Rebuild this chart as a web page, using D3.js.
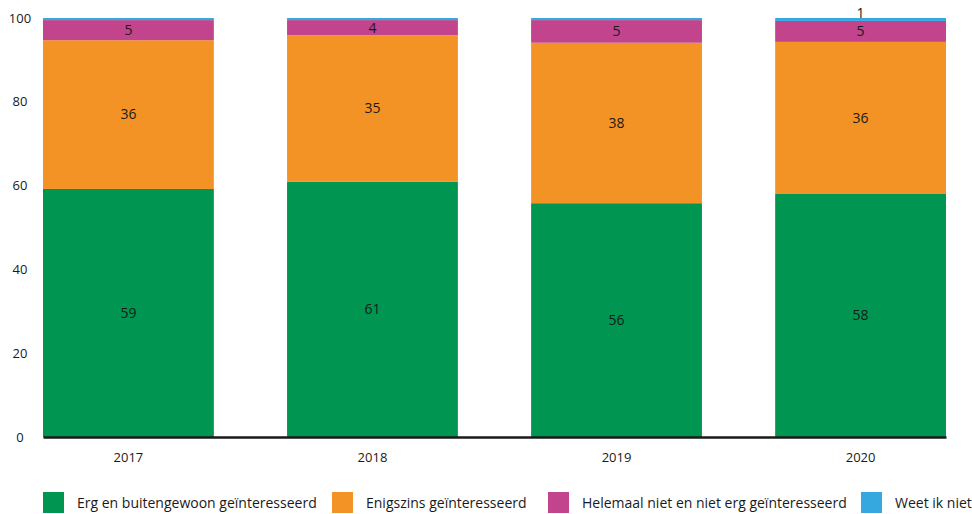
<!DOCTYPE html>
<html>
<head>
<meta charset="utf-8">
<script src="https://cdn.jsdelivr.net/npm/d3@7"></script>
<style>
  html, body { margin: 0; padding: 0; background: #fff; }
  svg { display: block; font-family: "Open Sans", "Noto Sans", sans-serif; }
</style>
</head>
<body>
<svg id="chart" width="972" height="514"></svg>
<script>
// Survey years
const years = ["2017", "2018", "2019", "2020"];

// Share of respondents per answer (%)
const ergGeinteresseerd = [59.2, 60.9, 55.8, 58.0];
const enigszins = [35.5, 35.0, 38.3, 36.3];
const helemaalNiet = [4.8, 3.6, 5.4, 5.0];
const weetIkNiet = [0.5, 0.5, 0.5, 0.7];

const seriesNames = [
  "Erg en buitengewoon geïnteresseerd",
  "Enigszins geïnteresseerd",
  "Helemaal niet en niet erg geïnteresseerd",
  "Weet ik niet"
];
const seriesColors = ["#009651", "#f39325", "#c1448d", "#35a8e0"];
// Which segments carry a value label
const labelled = [true, true, true, false];
const labelledSmall = ["", "", "", "2020"];

const yTicks = [0, 20, 40, 60, 80, 100];

const seriesValues = [ergGeinteresseerd, enigszins, helemaalNiet, weetIkNiet];
const rows = years.map((y, i) => {
  const r = { year: y };
  seriesNames.forEach((s, k) => { r[s] = seriesValues[k][i]; });
  return r;
});

const svg = d3.select("#chart");
const margin = { left: 43, right: 26, top: 18, bottom: 77 };
const W = 972, H = 514;

const x = d3.scaleBand()
  .domain(years)
  .range([margin.left, W - margin.right])
  .paddingInner(0.3)
  .paddingOuter(0);

const y = d3.scaleLinear()
  .domain([0, 100])
  .range([H - margin.bottom, margin.top]);

const stack = d3.stack().keys(seriesNames);
const stacked = stack(rows);

const layers = svg.append("g")
  .selectAll("g")
  .data(stacked)
  .join("g")
  .attr("fill", (d, i) => seriesColors[i]);

layers.selectAll("rect")
  .data(d => d)
  .join("rect")
  .attr("x", d => x(d.data.year))
  .attr("width", x.bandwidth())
  .attr("y", d => y(d[1]))
  .attr("height", d => y(d[0]) - y(d[1]));

// Value labels, centred in each segment
const labels = svg.append("g")
  .attr("font-size", 14)
  .attr("fill", "#1a1a1a")
  .attr("text-anchor", "middle");

stacked.forEach((layer, k) => {
  layer.forEach(d => {
    const show = labelled[k] || labelledSmall[k] === d.data.year;
    if (!show) return;
    const v = d[1] - d[0];
    const mid = (y(d[0]) + y(d[1])) / 2;
    labels.append("text")
      .attr("x", x(d.data.year) + x.bandwidth() / 2)
      .attr("y", labelled[k] ? mid : mid - 6)
      .attr("dy", "0.35em")
      .text(d3.format(".0f")(v));
  });
});

// Y axis labels (no axis line)
const yAxis = d3.axisLeft(y).tickValues(yTicks).tickSize(0).tickPadding(0);
const gy = svg.append("g")
  .attr("transform", "translate(20,0)")
  .call(yAxis);
gy.select(".domain").remove();
gy.selectAll("text")
  .attr("text-anchor", "middle")
  .attr("font-family", "'Open Sans', 'Noto Sans', sans-serif")
  .attr("font-size", 13)
  .attr("fill", "#1a1a1a");

// X axis with baseline
const xAxis = d3.axisBottom(x).tickSize(0).tickPadding(16);
const gx = svg.append("g")
  .attr("transform", `translate(0,${y(0)})`)
  .call(xAxis);
gx.select(".domain")
  .attr("stroke", "#1a1a1a")
  .attr("stroke-width", 2.5);
gx.selectAll("text")
  .attr("font-family", "'Open Sans', 'Noto Sans', sans-serif")
  .attr("font-size", 13)
  .attr("fill", "#1a1a1a");

// Legend
const legendX = [43, 332, 548, 861];
const legend = svg.append("g")
  .selectAll("g")
  .data(seriesNames)
  .join("g")
  .attr("transform", (d, i) => `translate(${legendX[i]},492)`);
legend.append("rect")
  .attr("width", 21)
  .attr("height", 21)
  .attr("fill", (d, i) => seriesColors[i]);
legend.append("text")
  .attr("x", 34)
  .attr("y", 11)
  .attr("dy", "0.35em")
  .attr("font-size", 14)
  .attr("fill", "#1a1a1a")
  .text(d => d);
</script>
</body>
</html>
